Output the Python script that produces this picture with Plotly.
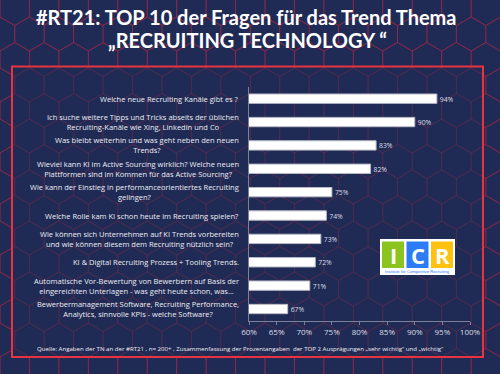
import math
import plotly.graph_objects as go

W, H = 500, 374
ML, MR, MT, MB = 249, 30, 87, 53
PW, PH = W - ML - MR, H - MT - MB

questions = [
    "Welche neue Recruiting Kanäle gibt es ?",
    "Ich suche weitere Tipps und Tricks abseits der üblichen<br>Recruiting-Kanäle wie Xing, Linkedin und Co",
    "Was bleibt weiterhin und was geht neben den neuen<br>Trends?",
    "Wieviel kann KI im Active Sourcing wirklich? Welche neuen<br>Plattformen sind im Kommen für das Active Sourcing?",
    "Wie kann der Einstieg in performanceorientiertes Recruiting<br>gelingen?",
    "Welche Rolle kam KI schon heute im Recruiting spielen?",
    "Wie können sich Unternehmen auf KI Trends vorbereiten<br>und wie können diesem dem Recruiting nützlich sein?",
    "KI & Digital Recruiting Prozess + Tooling Trends.",
    "Automatische Vor-Bewertung von Bewerbern auf Basis der<br>eingereichten Unterlagen - was geht heute schon, was...",
    "Bewerbermanagement Software, Recruiting Performance,<br>Analytics, sinnvolle KPIs - welche Software?",
]
values = [94, 90, 83, 82, 75, 74, 73, 72, 71, 67]
tick_vals = [60, 65, 70, 75, 80, 85, 90, 95, 100]
tick_text = ["60%", "65%", "70%", "75%", "80%", "85%", "90%", "95%", "100%"]

title_1 = "#RT21: TOP 10 der Fragen für das Trend Thema"
title_2 = "„RECRUITING TECHNOLOGY “"
source = ("Quelle: Angaben der TN an der #RT21 , n= 200+ , Zusammenfassung der Prozentangaben  "
          "der TOP 2 Ausprägungen „sehr wichtig“ und „wichtig“")

BG = "#1f2b55"
RED = "#e8343f"
TXT = "#ecedf3"


def px(x):
    return (x - ML) / PW


def py(y):
    return (H - MB - y) / PH


# hex grid background path
r = 17.0
hw = math.sqrt(3) * r
segs = []
row = 0
yc = -r
while yc < H + 2 * r:
    off = (hw / 2) if row % 2 else 0
    xc = -hw + off
    while xc < W + hw:
        pts = []
        for k in range(6):
            a = math.radians(60 * k + 30)
            pts.append((xc + r * math.cos(a), yc + r * math.sin(a)))
        d = "M{:.4f},{:.4f}".format(px(pts[0][0]), py(pts[0][1]))
        for p in pts[1:]:
            d += " L{:.4f},{:.4f}".format(px(p[0]), py(p[1]))
        d += " Z"
        segs.append(d)
        xc += hw
    yc += 1.5 * r
    row += 1
hex_path = " ".join(segs)

fig = go.Figure()
fig.add_trace(go.Bar(
    x=values, y=questions, orientation="h",
    width=0.4,
    marker=dict(color="#ffffff", line=dict(color="#b8bac6", width=1)),
    text=[f"{v}%" for v in values], textposition="outside",
    textfont=dict(family="Open Sans", size=8, color="#dcdde5"),
    cliponaxis=False, hoverinfo="skip",
))

shapes = [
    dict(type="path", path=hex_path, xref="paper", yref="paper",
         line=dict(color="rgba(190,40,70,0.55)", width=0.8), layer="below"),
    dict(type="rect", xref="paper", yref="paper", x0=px(12), x1=px(483), y0=py(357), y1=py(66.5),
         fillcolor="rgba(31,43,85,0.55)", line=dict(width=0), layer="below"),
    dict(type="rect", xref="paper", yref="paper", x0=px(12), x1=px(483), y0=py(357), y1=py(66.5),
         line=dict(color=RED, width=2), layer="above"),
    # ICR logo
    dict(type="rect", xref="paper", yref="paper", x0=px(380), x1=px(455), y0=py(275), y1=py(239),
         fillcolor="#ffffff", line=dict(width=0)),
    dict(type="rect", xref="paper", yref="paper", x0=px(382), x1=px(404), y0=py(268), y1=py(241.5),
         fillcolor="#8cc41f", line=dict(width=0)),
    dict(type="rect", xref="paper", yref="paper", x0=px(406.5), x1=px(428.5), y0=py(268), y1=py(241.5),
         fillcolor="#2d7cf6", line=dict(width=0)),
    dict(type="rect", xref="paper", yref="paper", x0=px(431), x1=px(453), y0=py(268), y1=py(241.5),
         fillcolor="#ffc20e", line=dict(width=0)),
]

ann = []
for q in questions:
    ann.append(dict(x=px(241), xref="paper", y=q, yref="y", text=q, showarrow=False,
                    xanchor="right", yanchor="middle", align="center",
                    font=dict(family="Open Sans", size=7.5, color=TXT)))
ann.append(dict(x=px(246), xref="paper", y=py(17), yref="paper", text="<b>" + title_1 + "</b>",
                showarrow=False, xanchor="center", yanchor="middle",
                font=dict(family="Lato", size=20, color="#ffffff")))
ann.append(dict(x=px(247), xref="paper", y=py(40), yref="paper", text="<b>" + title_2 + "</b>",
                showarrow=False, xanchor="center", yanchor="middle",
                font=dict(family="Lato", size=20, color="#ffffff")))
ann.append(dict(x=px(35), xref="paper", y=py(348), yref="paper", text=source, showarrow=False,
                xanchor="left", yanchor="middle",
                font=dict(family="Open Sans", size=6.1, color=TXT)))
for letter, cx in [("I", 393), ("C", 417.5), ("R", 442)]:
    ann.append(dict(x=px(cx), xref="paper", y=py(255), yref="paper", text="<b>" + letter + "</b>",
                    showarrow=False, xanchor="center", yanchor="middle",
                    font=dict(family="Open Sans", size=22, color="#ffffff")))
ann.append(dict(x=px(417.5), xref="paper", y=py(271.7), yref="paper",
                text="Institute for Competitive Recruiting", showarrow=False,
                xanchor="center", yanchor="middle",
                font=dict(family="Liberation Sans", size=4.2, color="#2d7cf6")))

fig.update_layout(
    width=W, height=H,
    margin=dict(l=ML, r=MR, t=MT, b=MB),
    paper_bgcolor=BG, plot_bgcolor="rgba(0,0,0,0)",
    showlegend=False, bargap=0.6,
    shapes=shapes, annotations=ann,
    xaxis=dict(range=[60, 100], tickvals=tick_vals, ticktext=tick_text,
               showgrid=False, zeroline=False, showline=True, linecolor="#7d8198", linewidth=1,
               ticks="outside", ticklen=3, tickcolor="#7d8198",
               tickfont=dict(family="Open Sans", size=8, color="#dcdde5")),
    yaxis=dict(type="category", autorange="reversed", showticklabels=False,
               showgrid=False, zeroline=False, showline=True, linecolor="#7d8198", linewidth=1,
               ticks=""),
)

fig.write_html("out.html", config={"displayModeBar": False},
               post_script="document.body.style.margin='0';document.body.style.padding='0';document.body.style.background='" + BG + "';")
